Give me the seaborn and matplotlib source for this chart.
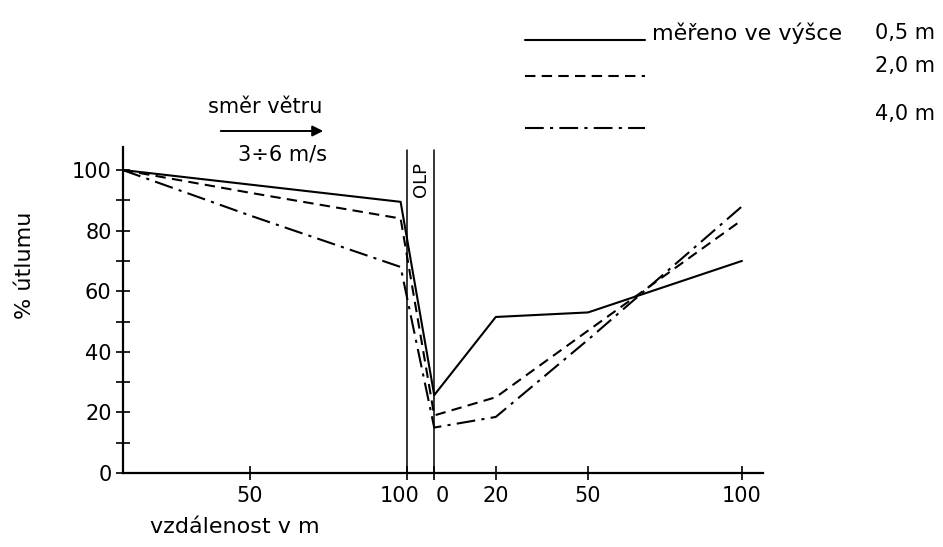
import numpy as np
import pandas as pd
import seaborn as sns
import matplotlib.pyplot as plt
from matplotlib.lines import Line2D
import matplotlib.transforms as mtransforms

### DATA
left_dist = [9.5, 50, 98]            # m before the forest strip (OLP)
right_dist = [0, 20, 50, 100]        # m behind the forest strip
h05_left = [100, 95.2, 89.5]
h05_right = [25.7, 51.5, 53, 70]
h20_left = [100, 92.5, 84]
h20_right = [19, 25, 47, 83.5]
h40_left = [100, 85, 68]
h40_right = [15, 18.5, 44, 88]

heights = ['0,5 m', '2,0 m', '4,0 m']
left_ticks = [50, 100]
right_ticks = [0, 20, 50, 100]
y_ticks = [0, 20, 40, 60, 80, 100]

### layout of the broken x axis
OLP_END = 108.7       # where the right-hand part starts
RIGHT_SCALE = 0.98

def right_pos(r):
    return OLP_END + RIGHT_SCALE * np.asarray(r, dtype=float)

rows = []
for name, lv, rv in zip(heights, [h05_left, h20_left, h40_left], [h05_right, h20_right, h40_right]):
    xs = list(left_dist) + list(right_pos(right_dist))
    ys = list(lv) + list(rv)
    for x, y in zip(xs, ys):
        rows.append({'pos': x, 'utlum': y, 'vyska': name})
df = pd.DataFrame(rows)

styles = {'0,5 m': '-', '2,0 m': (0, (5, 3)), '4,0 m': (0, (9, 3, 1.5, 3))}

sns.set_style('ticks')
plt.rcParams['font.family'] = ['DejaVu Sans']
plt.rcParams['text.color'] = 'black'
plt.rcParams['xtick.color'] = 'black'
plt.rcParams['ytick.color'] = 'black'
plt.rcParams['axes.edgecolor'] = 'black'

fig = plt.figure(figsize=(9.43, 5.47), dpi=100)
ax = fig.add_axes([122.7 / 943, 74 / 547, (763 - 122.7) / 943, (473 - 147) / 547])

for name in heights:
    sub = df[df['vyska'] == name]
    sns.lineplot(data=sub, x='pos', y='utlum', sort=False, color='black',
                 linestyle=styles[name], linewidth=1.5, ax=ax)

# forest strip borders
ax.plot([100, 100], [0, 106.5], color='black', lw=1.1)
ax.plot([OLP_END, OLP_END], [0, 106.5], color='black', lw=1.1)
ax.text((100 + OLP_END) / 2, 97, 'OLP', rotation=90, ha='center', va='center', fontsize=13)

ax.set_xlim(9.5, 213.4)
ax.set_ylim(0, 107.6)
for s in ['top', 'right']:
    ax.spines[s].set_visible(False)
for s in ['left', 'bottom']:
    ax.spines[s].set_linewidth(1.6)

xt = list(left_ticks) + list(right_pos(right_ticks))
xl = [str(v) for v in left_ticks] + [str(v) for v in right_ticks]
ax.set_xticks(xt)
ax.set_xticklabels(xl)
ax.set_yticks(y_ticks)
ax.set_yticks([10, 30, 50, 70, 90], minor=True)
ax.tick_params(axis='both', which='both', direction='inout', length=10, width=1.2,
               labelsize=15, bottom=True, left=True, colors='black')
ax.tick_params(axis='x', pad=4)
ax.tick_params(axis='y', pad=3)

# nudge the "100" and "0" labels off the strip borders
labels = ax.get_xticklabels()
labels[1].set_transform(labels[1].get_transform() + mtransforms.ScaledTranslation(-7 / 100, 0, fig.dpi_scale_trans))
labels[2].set_transform(labels[2].get_transform() + mtransforms.ScaledTranslation(8 / 100, 0, fig.dpi_scale_trans))

ax.set_xlabel('')
ax.set_ylabel('')
fig.text(25 / 943, 1 - 265 / 547, '% útlumu', rotation=90, ha='center', va='center', fontsize=16)
fig.text(235 / 943, 1 - 527 / 547, 'vzdálenost v m', ha='center', va='center', fontsize=16)

# wind direction note
fig.text(265 / 943, 1 - 107 / 547, 'směr větru', ha='center', va='center', fontsize=15)
ax.annotate('', xy=(326 / 943, 1 - 131 / 547), xytext=(218 / 943, 1 - 131 / 547),
            xycoords='figure fraction', textcoords='figure fraction',
            arrowprops=dict(arrowstyle='-|>', color='black', lw=1.4, mutation_scale=16))
fig.text(282 / 943, 1 - 155 / 547, '3÷6 m/s', ha='center', va='center', fontsize=15)

# hand-made legend
leg_y = [40, 76, 128]
txt_y = [33, 66, 114]
for name, ly, ty in zip(heights, leg_y, txt_y):
    fig.add_artist(Line2D([525 / 943, 645 / 943], [1 - ly / 547, 1 - ly / 547],
                          color='black', lw=1.5, linestyle=styles[name]))
    fig.text(935 / 943, 1 - ty / 547, name, ha='right', va='center', fontsize=15)
fig.text(652 / 943, 1 - 33 / 547, 'měřeno ve výšce', ha='left', va='center', fontsize=16)

fig.savefig('out.png', dpi=100)
